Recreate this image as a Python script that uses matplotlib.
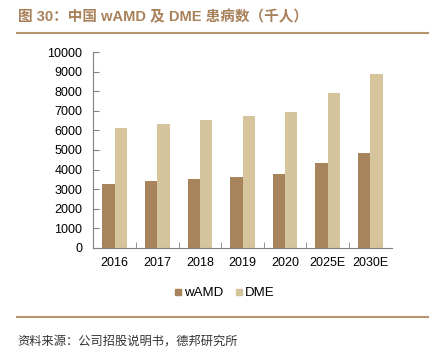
import matplotlib
matplotlib.use("Agg")
import matplotlib.pyplot as plt
import numpy as np
from matplotlib.lines import Line2D

categories = ["2016", "2017", "2018", "2019", "2020", "2025E", "2030E"]
wamd = [3280, 3420, 3540, 3640, 3750, 4320, 4860]
dme = [6150, 6340, 6530, 6730, 6940, 7900, 8880]
series_names = ["wAMD", "DME"]
title = "图 30：中国 wAMD 及 DME 患病数（千人）"
source = "资料来源：公司招股说明书，德邦研究所"

c_wamd = "#A8845C"
c_dme = "#D6C49C"
c_brown = "#A8805A"

plt.rcParams['font.family'] = ['Liberation Sans', 'Noto Sans CJK SC', 'DejaVu Sans']

fig = plt.figure(figsize=(4.36, 3.55), dpi=100)
ax = fig.add_axes([93.3/436, 1-247.7/355, (391.7-93.3)/436, (247.7-52.3)/355])

x = np.arange(len(categories))
w = 0.29
ax.bar(x - w/2, wamd, w, color=c_wamd, label=series_names[0])
ax.bar(x + w/2, dme, w, color=c_dme, label=series_names[1])

ax.set_xlim(-0.5, len(categories) - 0.5)
ax.set_ylim(0, 10000)
ax.set_yticks(np.arange(0, 10001, 1000))
ax.set_xticks(x)
ax.set_xticklabels(categories)
ax.set_xticks(np.arange(0.5, len(categories) - 0.5, 1), minor=True)
ax.tick_params(axis='x', which='major', length=0, labelsize=9, pad=7)
ax.tick_params(axis='x', which='minor', direction='in', length=4, color='#808080')
ax.tick_params(axis='y', direction='in', length=4, color='#808080', labelsize=9, pad=8)
for s in ['top', 'right']:
    ax.spines[s].set_visible(False)
for s in ['left', 'bottom']:
    ax.spines[s].set_color('#808080')
    ax.spines[s].set_linewidth(0.8)

handles = [Line2D([], [], marker='s', linestyle='none', color=c_wamd, markersize=4.5),
           Line2D([], [], marker='s', linestyle='none', color=c_dme, markersize=4.5)]
fig.legend(handles, series_names, loc='center', bbox_to_anchor=(224/436, 1-293/355),
           ncol=2, frameon=False, fontsize=9.5, handletextpad=0.1, columnspacing=0.9,
           handlelength=0.7, borderpad=0, borderaxespad=0)

fig.text(18/436, 1-17/355, title, fontsize=10.5, fontweight='bold', color=c_brown,
         va='center', ha='left', family=['Liberation Sans', 'Noto Sans CJK SC'])
fig.add_artist(Line2D([17/436, 428/436], [1-33.3/355]*2, color='#B8946C', lw=1.5,
                      transform=fig.transFigure))
fig.add_artist(Line2D([17/436, 428/436], [1-316.7/355]*2, color='#B8946C', lw=1.5,
                      transform=fig.transFigure))
fig.text(17/436, 1-340.7/355, source, fontsize=8.8, color='#333333', va='center', ha='left',
         family=['Noto Sans CJK SC', 'DejaVu Sans'])

fig.savefig("out.png", dpi=100)
